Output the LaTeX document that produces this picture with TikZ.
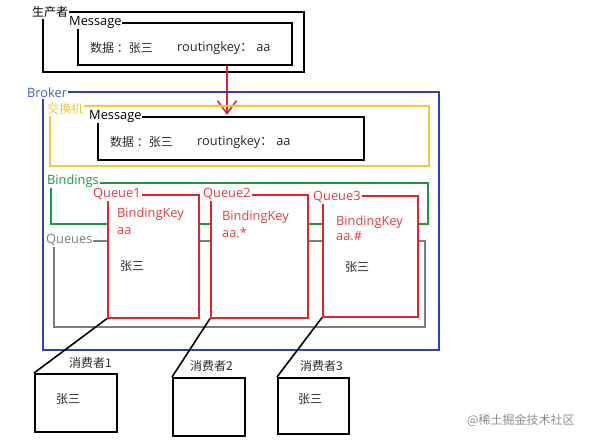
\documentclass[tikz,border=0pt]{standalone}
\usepackage{fontspec}
\setmainfont{Open Sans}
\newfontfamily\cjk{Noto Sans CJK SC}
\usetikzlibrary{arrows.meta}
\definecolor{brokerblue}{RGB}{50,62,178}
\definecolor{brokertext}{RGB}{70,92,200}
\definecolor{exchyellow}{RGB}{246,200,60}
\definecolor{bindgreen}{RGB}{30,150,70}
\definecolor{queuegray}{RGB}{125,125,125}
\definecolor{queuered}{RGB}{222,40,40}
\definecolor{keyred}{RGB}{222,64,64}
\definecolor{msgtext}{RGB}{40,40,40}
\begin{document}
\begin{tikzpicture}[x=1pt,y=-1pt,
    box/.style={draw,line width=1.6pt,anchor=north west,inner sep=0pt},
    tag/.style={fill=white,anchor=west,inner sep=1pt,font=\fontsize{12.8}{15}\selectfont},
    txt/.style={anchor=west,inner sep=0pt,font=\fontsize{12.8}{15}\selectfont},
    zh/.style={anchor=west,inner sep=0pt,font=\fontsize{12}{15}\cjk,text=msgtext}]

\useasboundingbox (0,0) rectangle (594,439);

%========================
% Producer
%========================
\node[box,minimum width=261pt,minimum height=60pt] (prod) at (42,11) {};
\node[box,minimum width=214pt,minimum height=42pt] (msgA) at (77,22) {};
\node[tag,font=\fontsize{12}{15}\cjk] (prodlbl) at (31,12) {生产者};
\node[tag] (msgAlbl) at (68,22) {Message};
\node[zh] (dataA) at (90,48) {数据 ：张三};
\node[txt,text=msgtext] (keyA) at (177,48) {routingkey{\cjk ：} aa};

% Message into the exchange
\coordinate (drop) at (227,115);
\draw[queuered,line width=1.6pt,-{Straight Barb[length=13pt,width=19pt]}]
  (msgA.south -| drop) -- (drop);

%========================
% Broker
%========================
\node[box,draw=brokerblue,minimum width=396pt,minimum height=258pt] (broker) at (42,91) {};
\node[tag,text=brokertext] (brokerlbl) at (26,93) {Broker};

% Exchange
\node[box,draw=exchyellow,minimum width=379pt,minimum height=60pt] (exch) at (49,105) {};
\node[tag,font=\fontsize{12}{15}\cjk,text=exchyellow] (exchlbl) at (46,109) {交换机};
\node[box,minimum width=266pt,minimum height=43pt] (msgB) at (97,116) {};
\node[tag] (msgBlbl) at (88,116) {Message};
\node[zh] (dataB) at (110,142) {数据 ：张三};
\node[txt,text=msgtext] (keyB) at (197,142) {routingkey{\cjk ：} aa};

% Bindings and queues
\node[box,draw=bindgreen,minimum width=377pt,minimum height=41pt] (bind) at (50,182) {};
\node[tag,text=bindgreen] (bindlbl) at (46,181) {Bindings};
\node[box,draw=queuegray,minimum width=371pt,minimum height=86pt] (queues) at (53,240) {};
\node[tag,text=queuegray] (queueslbl) at (45,240) {Queues};

% Queue1
\node[box,draw=queuered,fill=white,minimum width=91pt,minimum height=123pt] (q1) at (107,194) {};
\node[tag,text=keyred] (q1lbl) at (92,194) {Queue1};
\node[txt,text=keyred] (q1key) at (117,214) {BindingKey};
\node[txt,text=keyred] (q1val) at (117,231) {aa};
\node[zh] (q1msg) at (120,266) {张三};

% Queue2
\node[box,draw=queuered,fill=white,minimum width=97pt,minimum height=123pt] (q2) at (210,194) {};
\node[tag,text=keyred] (q2lbl) at (202,194) {Queue2};
\node[txt,text=keyred] (q2key) at (222,217) {BindingKey};
\node[txt,text=keyred] (q2val) at (222,233) {aa.*};

% Queue3
\node[box,draw=queuered,fill=white,minimum width=95pt,minimum height=121pt] (q3) at (322,195) {};
\node[tag,text=keyred] (q3lbl) at (312,197) {Queue3};
\node[txt,text=keyred] (q3key) at (336,222) {BindingKey};
\node[txt,text=keyred] (q3val) at (336,236) {aa.\#};
\node[zh] (q3msg) at (345,267) {张三};

%========================
% Consumers
%========================
\node[box,minimum width=82pt,minimum height=58pt] (c1) at (34,373) {};
\node[box,minimum width=72pt,minimum height=58pt] (c2) at (172,377) {};
\node[box,minimum width=71pt,minimum height=56pt] (c3) at (277,377) {};
\node[zh] (c1lbl) at (69,363) {消费者1};
\node[zh] (c2lbl) at (190,366) {消费者2};
\node[zh] (c3lbl) at (300,366) {消费者3};
\node[zh] (c1msg) at (56,399) {张三};
\node[zh] (c3msg) at (298,399) {张三};

% Edges
\draw[line width=1.6pt] (q1.south west)--(c1.north west);
\draw[line width=1.6pt] (q2.south west)--(c2.north west);
\draw[line width=1.6pt] (q3.south west)--(c3.north west);

% Watermark
\node[zh,text=black!45] (mark) at (467,420) {@稀土掘金技术社区};

\end{tikzpicture}
\end{document}
